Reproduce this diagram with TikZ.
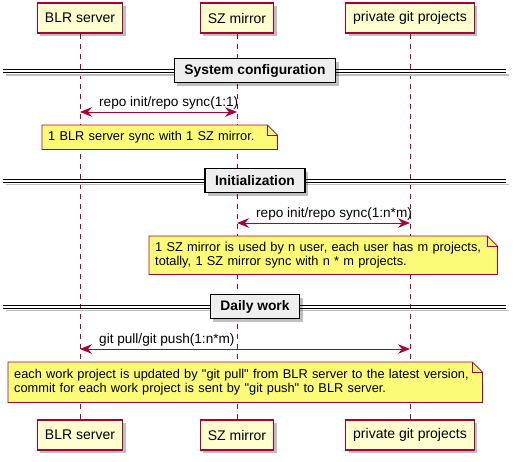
\documentclass[tikz,border=0pt]{standalone}
\usepackage{fontspec}
\newfontfamily\umlfont{Liberation Sans}
\usetikzlibrary{arrows.meta,shadows,backgrounds}

\definecolor{umlred}{HTML}{A80036}
\definecolor{partfill}{HTML}{FEFECE}
\definecolor{notefill}{HTML}{FBFB77}
\definecolor{sepfill}{HTML}{EEEEEE}

\tikzset{
  participant/.style={draw=umlred, line width=1.2pt, fill=partfill, minimum height=30pt,
    inner xsep=7.5pt, font=\umlfont\fontsize{14}{16}\selectfont,
    drop shadow={shadow xshift=3pt, shadow yshift=-3pt, fill=black, opacity=0.25}},
  lifeline/.style={umlred, line width=0.8pt, dash pattern=on 5pt off 5pt},
  msg/.style={umlred, line width=0.9pt,
    {Stealth[length=12pt,width=9.5pt,inset=4pt]}-{Stealth[length=12pt,width=9.5pt,inset=4pt]}},
  msglabel/.style={anchor=base west, inner sep=0pt, font=\umlfont\fontsize{13.6}{15}\selectfont},
  notetext/.style={anchor=north west, align=left, inner xsep=6pt, inner ysep=0pt,
    font=\umlfont\fontsize{12.8}{14}\selectfont},
  notebox/.style={draw=umlred, line width=0.8pt, fill=notefill},
  noteshadow/.style={fill=black, opacity=0.25, xshift=3pt, yshift=-3pt},
  sepline/.style={black, line width=0.9pt},
  sepshadow/.style={black!25, line width=1.5pt},
  seplabel/.style={draw=black, line width=1.4pt, fill=sepfill, minimum height=24pt,
    inner xsep=10pt, font=\umlfont\bfseries\fontsize{13.8}{15}\selectfont,
    drop shadow={shadow xshift=3pt, shadow yshift=-3pt, fill=black, opacity=0.25}}
}

\begin{document}
\begin{tikzpicture}[x=1pt,y=-1pt]
  \useasboundingbox (0,0) rectangle (517,461);
  % participants
  \node[participant] (blrTop) at (80,18) {BLR server};
  \node[participant] (szTop) at (237,18) {SZ mirror};
  \node[participant] (gitTop) at (410,18) {private git projects};
  \node[participant] (blrBot) at (80,435) {BLR server};
  \node[participant] (szBot) at (237,435) {SZ mirror};
  \node[participant] (gitBot) at (410,435) {private git projects};
  \begin{pgfonlayer}{background}
    \draw[lifeline] (blrTop.south) -- (blrBot.north);
    \draw[lifeline] (szTop.south) -- (szBot.north);
    \draw[lifeline] (gitTop.south) -- (gitBot.north);
  \end{pgfonlayer}

  % System configuration
  \draw[sepshadow] (6,75) -- (509,75);
  \draw[sepline] (3,69) -- (506,69);
  \draw[sepline] (3,72) -- (506,72);
  \node[seplabel] (sepCfg) at (255,70.5) {System configuration};
  \draw[msg] (blrTop |- 0,112) -- (szTop |- 0,112);
  \node[msglabel] (msgCfg) at (99,106) {repo init/repo sync(1:1)};
  \node[notetext, text width=223pt, minimum height=24pt] (noteCfg) at (42,125)
    {1 BLR server sync with 1 SZ mirror.};
  \begin{pgfonlayer}{background}
    \fill[noteshadow] (noteCfg.north west) -- ([xshift=-10pt]noteCfg.north east)
      -- ([yshift=-10pt]noteCfg.north east) -- (noteCfg.south east) -- (noteCfg.south west) -- cycle;
    \draw[notebox] (noteCfg.north west) -- ([xshift=-10pt]noteCfg.north east)
      -- ([yshift=-10pt]noteCfg.north east) -- (noteCfg.south east) -- (noteCfg.south west) -- cycle;
    \draw[umlred, line width=0.8pt] ([xshift=-10pt]noteCfg.north east)
      -- ([xshift=-10pt,yshift=-10pt]noteCfg.north east) -- ([yshift=-10pt]noteCfg.north east);
  \end{pgfonlayer}

  % Initialization
  \draw[sepshadow] (6,184.5) -- (509,184.5);
  \draw[sepline] (3,179) -- (506,179);
  \draw[sepline] (3,182) -- (506,182);
  \node[seplabel] (sepInit) at (255,180.5) {Initialization};
  \draw[msg] (szTop |- 0,223) -- (gitTop |- 0,223);
  \node[msglabel] (msgInit) at (256,217) {repo init/repo sync(1:n*m)};
  \node[notetext, text width=336pt, minimum height=38pt] (noteInit) at (149,236)
    {1 SZ mirror is used by n user, each user has m projects,\\
     totally, 1 SZ mirror sync with n * m projects.};
  \begin{pgfonlayer}{background}
    \fill[noteshadow] (noteInit.north west) -- ([xshift=-10pt]noteInit.north east)
      -- ([yshift=-10pt]noteInit.north east) -- (noteInit.south east) -- (noteInit.south west) -- cycle;
    \draw[notebox] (noteInit.north west) -- ([xshift=-10pt]noteInit.north east)
      -- ([yshift=-10pt]noteInit.north east) -- (noteInit.south east) -- (noteInit.south west) -- cycle;
    \draw[umlred, line width=0.8pt] ([xshift=-10pt]noteInit.north east)
      -- ([xshift=-10pt,yshift=-10pt]noteInit.north east) -- ([yshift=-10pt]noteInit.north east);
  \end{pgfonlayer}

  % Daily work
  \draw[sepshadow] (6,310.5) -- (509,310.5);
  \draw[sepline] (3,305) -- (506,305);
  \draw[sepline] (3,308) -- (506,308);
  \node[seplabel] (sepDaily) at (255,306.5) {Daily work};
  \draw[msg] (blrTop |- 0,349) -- (gitTop |- 0,349);
  \node[msglabel] (msgDaily) at (99,343) {git pull/git push(1:n*m)};
  \node[notetext, text width=462pt, minimum height=40pt] (noteDaily) at (8,362)
    {each work project is updated by "git pull" from BLR server to the latest version,\\
     commit for each work project is sent by "git push" to BLR server.};
  \begin{pgfonlayer}{background}
    \fill[noteshadow] (noteDaily.north west) -- ([xshift=-10pt]noteDaily.north east)
      -- ([yshift=-10pt]noteDaily.north east) -- (noteDaily.south east) -- (noteDaily.south west) -- cycle;
    \draw[notebox] (noteDaily.north west) -- ([xshift=-10pt]noteDaily.north east)
      -- ([yshift=-10pt]noteDaily.north east) -- (noteDaily.south east) -- (noteDaily.south west) -- cycle;
    \draw[umlred, line width=0.8pt] ([xshift=-10pt]noteDaily.north east)
      -- ([xshift=-10pt,yshift=-10pt]noteDaily.north east) -- ([yshift=-10pt]noteDaily.north east);
  \end{pgfonlayer}
\end{tikzpicture}
\end{document}
